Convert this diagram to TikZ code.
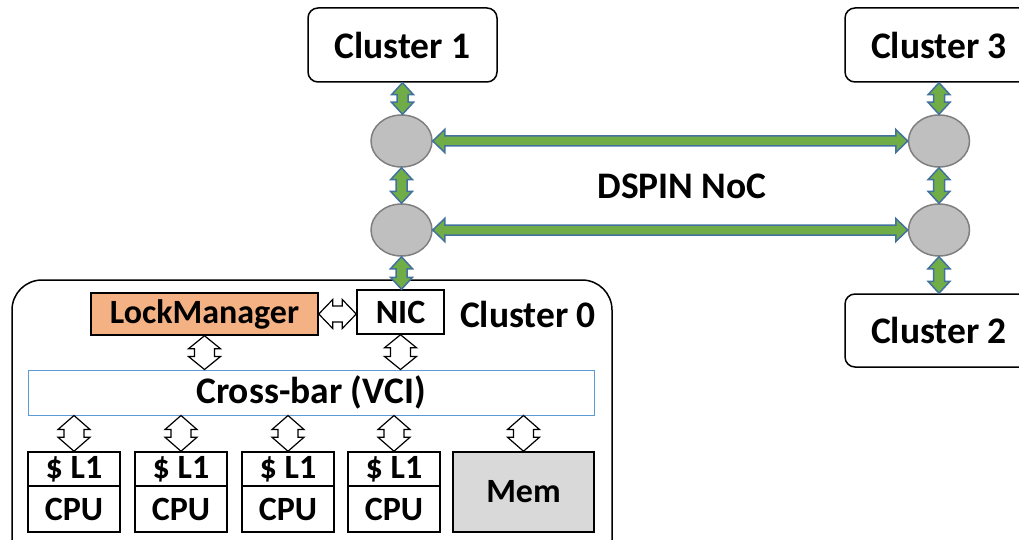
\documentclass[tikz,border=0pt]{standalone}
\usepackage{fontspec}
\setmainfont{Carlito}
\usetikzlibrary{shapes.geometric,calc}

\definecolor{linkgreen}{HTML}{70AD47}
\definecolor{linkblue}{HTML}{41719C}
\definecolor{routerfill}{HTML}{BFBFBF}
\definecolor{routeredge}{HTML}{7F7F7F}
\definecolor{lockorange}{HTML}{F4B183}
\definecolor{memgray}{HTML}{D9D9D9}
\definecolor{barblue}{HTML}{5B9BD5}

% vertical double arrow: style, upper anchor, lower anchor, head half-width, shaft half-width, head length
\newcommand\vlink[6]{%
  \path[#1] let \p1=(#2), \p2=(#3) in
    (\x1,\y1) -- (\x1+#4,\y1-#6) -- (\x1+#5,\y1-#6) -- (\x1+#5,\y2+#6) -- (\x1+#4,\y2+#6)
    -- (\x1,\y2) -- (\x1-#4,\y2+#6) -- (\x1-#5,\y2+#6) -- (\x1-#5,\y1-#6) -- (\x1-#4,\y1-#6) -- cycle;}
% horizontal double arrow: style, left anchor, right anchor, head half-height, shaft half-height, head length
\newcommand\hlink[6]{%
  \path[#1] let \p1=(#2), \p2=(#3) in
    (\x1,\y1) -- (\x1+#6,\y1+#4) -- (\x1+#6,\y1+#5) -- (\x2-#6,\y1+#5) -- (\x2-#6,\y1+#4)
    -- (\x2,\y1) -- (\x2-#6,\y1-#4) -- (\x2-#6,\y1-#5) -- (\x1+#6,\y1-#5) -- (\x1+#6,\y1-#4) -- cycle;}

\tikzset{
  txt/.style={font=\fontsize{34pt}{40pt}\selectfont\bfseries, text=black},
  bigtxt/.style={font=\fontsize{37.5pt}{44pt}\selectfont\bfseries, text=black},
  box/.style={txt, draw=black, line width=1.5pt, inner sep=0pt},
  cluster/.style={box, bigtxt, rounded corners=10pt, fill=white},
  router/.style={ellipse, draw=routeredge, fill=routerfill, line width=1.5pt,
                 minimum width=61pt, minimum height=52pt, inner sep=0pt},
  greenlink/.style={fill=linkgreen, draw=linkblue, line width=1.5pt, line join=miter},
  hollow/.style={fill=white, draw=black, line width=1.2pt, line join=miter},
}

\begin{document}
\begin{tikzpicture}[x=1pt, y=-1pt]
\useasboundingbox (0,0) rectangle (1019,540);
\clip (0,0) rectangle (1019,540);

% remote clusters
\node[cluster, minimum width=189pt, minimum height=74pt] (c1) at (402.5,45) {Cluster 1};
\node[cluster, minimum width=188pt, minimum height=74pt] (c3) at (939,45) {Cluster 3};
\node[cluster, minimum width=188pt, minimum height=73pt] (c2) at (939,330.5) {Cluster 2};

% routers of the mesh
\node[router] (r1) at (401.5,141) {};
\node[router] (r2) at (401.5,230) {};
\node[router] (r3) at (939,141) {};
\node[router] (r4) at (939,230) {};
\node[bigtxt] (noc) at (682,186) {DSPIN NoC};

% cluster 0
\node[draw=black, line width=1.5pt, rounded corners=30pt, minimum width=600pt,
      minimum height=290pt, inner sep=0pt] (c0) at (312,425) {};
\node[bigtxt] (c0lbl) at (528,314) {Cluster 0};
\node[box, fill=lockorange, minimum width=227pt, minimum height=42pt] (lock) at (204.5,314) {LockManager};
\node[box, fill=white, minimum width=87pt, minimum height=44pt] (nic) at (400.5,312) {NIC};
\node[bigtxt, draw=barblue, line width=1pt, minimum width=566pt, minimum height=45pt, inner sep=0pt]
  (bar) at (311,392.5) {Cross-bar (VCI)};

\foreach \i/\x in {1/74,2/181,3/288,4/394}{
  \node[box, minimum width=92pt, minimum height=34pt] (l\i) at (\x,469) {\$ L1};
  \node[box, minimum width=92pt, minimum height=46pt] (cpu\i) at (\x,509) {CPU};
}
\node[box, fill=memgray, minimum width=141pt, minimum height=80pt] (mem) at (523.5,492) {Mem};

% network links
\vlink{greenlink}{c1.south}{r1.north}{11pt}{5.5pt}{12pt}
\vlink{greenlink}{r1.south}{r2.north}{11pt}{5.5pt}{12pt}
\vlink{greenlink}{r2.south}{nic.north}{11pt}{5.5pt}{12pt}
\vlink{greenlink}{c3.south}{r3.north}{11pt}{5.5pt}{12pt}
\vlink{greenlink}{r3.south}{r4.north}{11pt}{5.5pt}{12pt}
\vlink{greenlink}{r4.south}{c2.north}{11pt}{5.5pt}{12pt}
\hlink{greenlink}{r1.east}{r3.west}{11.5pt}{5pt}{12pt}
\hlink{greenlink}{r2.east}{r4.west}{11.5pt}{5pt}{12pt}

% on-chip links
\hlink{hollow}{lock.east}{nic.west}{14.5pt}{8pt}{14pt}
\vlink{hollow}{lock.south}{bar.north}{16pt}{10pt}{13pt}
\vlink{hollow}{nic.south}{bar.north}{16pt}{10pt}{13pt}
\foreach \i in {1,2,3,4}{
  \vlink{hollow}{bar.south -| l\i.north}{l\i.north}{16pt}{10pt}{14pt}
}
\vlink{hollow}{bar.south -| mem.north}{mem.north}{16pt}{10pt}{14pt}
\end{tikzpicture}
\end{document}
